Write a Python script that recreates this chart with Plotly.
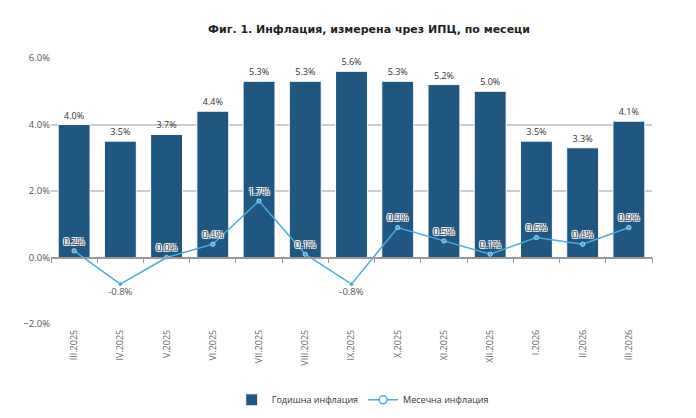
import plotly.graph_objects as go

months = ["III.2025", "IV.2025", "V.2025", "VI.2025", "VII.2025", "VIII.2025", "IX.2025",
          "X.2025", "XI.2025", "XII.2025", "I.2026", "II.2026", "III.2026"]
annual = [4.0, 3.5, 3.7, 4.4, 5.3, 5.3, 5.6, 5.3, 5.2, 5.0, 3.5, 3.3, 4.1]
monthly = [0.2, -0.8, 0.0, 0.4, 1.7, 0.1, -0.8, 0.9, 0.5, 0.1, 0.6, 0.4, 0.9]

bar_color = "#1f5780"
line_color = "#47ade0"
font = "Open Sans"

# labels under the line where the value is negative
label_pos = ["bottom center" if v < 0 else "top center" for v in monthly]
outline = "-1px -1px 0 #fff, 1px -1px 0 #fff, -1px 1px 0 #fff, 1px 1px 0 #fff"

fig = go.Figure()

fig.add_trace(go.Bar(
    x=months, y=annual, name="Годишна инфлация",
    marker=dict(color=bar_color, line=dict(color="#ffffff", width=1)),
    text=[f"{v:.1f}%" for v in annual], textposition="outside",
    textfont=dict(size=9, color="#333333", family=font),
    cliponaxis=False, hoverinfo="skip",
))

fig.add_trace(go.Scatter(
    x=months, y=monthly, name="Месечна инфлация", xaxis="x2",
    mode="lines+markers+text", showlegend=False,
    line=dict(color=line_color, width=1.5),
    marker=dict(size=4.5, color=line_color, line=dict(color="#ffffff", width=0.5)),
    text=[f"{v:.1f}%" for v in monthly], textposition=label_pos,
    textfont=dict(size=9.5, color="#555555", family=font, shadow=outline),
    cliponaxis=False,
))

# legend entry only, hollow marker like the original legend
fig.add_trace(go.Scatter(
    x=[None], y=[None], name="Месечна инфлация", mode="lines+markers",
    line=dict(color=line_color, width=1.5),
    marker=dict(size=8, color="#ffffff", line=dict(color=line_color, width=1.5)),
))

fig.update_layout(
    width=696, height=418,
    margin=dict(l=43, r=52, t=50, b=95),
    paper_bgcolor="white", plot_bgcolor="white",
    font=dict(family=font, size=10, color="#555555"),
    title=dict(text="<b>Фиг. 1. Инфлация, измерена чрез ИПЦ, по месеци</b>",
               x=361 / 696, xref="container", xanchor="center",
               y=1 - 21 / 418, yref="container", yanchor="middle",
               font=dict(size=11, color="#222222", family="DejaVu Sans")),
    bargap=0.31,
    showlegend=True,
    legend=dict(orientation="h", x=361 / 696, xanchor="center", y=-0.285, yanchor="middle",
                font=dict(size=9, color="#333333", family=font),
                itemwidth=30, traceorder="normal"),
    xaxis=dict(type="category", range=[-0.5, 12.5], tickangle=-90,
               showgrid=False, showline=False, ticks="", ticklabelstandoff=3,
               tickfont=dict(size=9, color="#666666", family=font)),
    xaxis2=dict(type="category", range=[-0.5, 12.5], overlaying="x", anchor="free",
                position=0.25, side="bottom", showticklabels=False, showgrid=False,
                showline=True, linecolor="#999999", linewidth=1.5,
                ticks="outside", tickson="boundaries", ticklen=5, tickcolor="#999999"),
    yaxis=dict(range=[-2, 6], dtick=2, tickformat=".1f", ticksuffix="%",
               gridcolor="#c9cdd6", gridwidth=1.5, zeroline=False, showline=False,
               tickfont=dict(size=9.5, color="#555555", family=font)),
)

fig.write_html("out.html")
